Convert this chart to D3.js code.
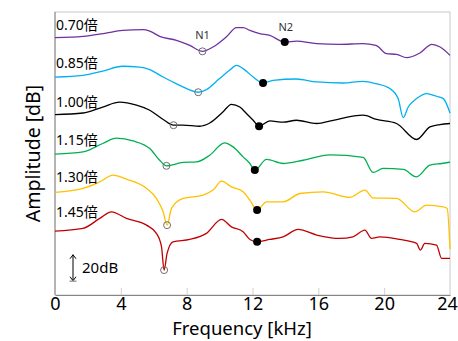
<!DOCTYPE html>
<html>
<head>
<meta charset="utf-8">
<script src="https://cdn.jsdelivr.net/npm/d3@7"></script>
<style>
  body { margin: 0; background: #fff; }
  text { font-family: "Noto Sans", "Noto Sans CJK JP", sans-serif; }
</style>
</head>
<body>
<div id="chart"></div>
<script>
// frequency [kHz] / amplitude [dB]
const freq070 = [0, 1.7, 3.1, 4.1, 5.35, 5.76, 6.36, 7.38, 8.19, 8.96, 9.6, 10.4, 11.03, 11.43, 11.84, 12.44, 13.05, 13.96, 14.67, 15.9, 17.3, 18.7, 19.5, 20.15, 20.75, 21.36, 22.17, 22.9, 23.4, 24];
const amp070 = [198.2, 199.2, 201.8, 203.8, 204.4, 203.3, 199.2, 196.2, 192.3, 187.7, 191, 198.7, 205.9, 205.9, 203.8, 201.3, 200, 194.8, 195.6, 193.6, 193.1, 193.6, 192.3, 185.9, 185.4, 182.8, 186.4, 193.1, 191, 184.6];

const freq085 = [0, 1.7, 2.9, 4.1, 5.15, 5.76, 6.57, 7.58, 8.7, 9.2, 10.0, 10.6, 11.03, 11.43, 12.04, 12.64, 13.25, 14.67, 15.9, 17.5, 18.7, 19.5, 20.35, 20.85, 21.16, 21.46, 21.97, 22.58, 23.18, 23.6, 24];
const amp085 = [167.9, 169.2, 172.5, 176.2, 175.6, 173.6, 167.9, 161.5, 156.2, 158.2, 166.7, 173.1, 176.9, 174.4, 167.9, 163.3, 165.4, 166.4, 164.1, 163.3, 164.6, 162.8, 159, 151.3, 136.7, 144.8, 151.3, 155.2, 153.1, 151.3, 140.2];

const freq100 = [0, 1.7, 2.9, 3.93, 4.95, 5.76, 6.57, 7.2, 7.78, 8.8, 9.4, 10.2, 10.72, 11.23, 11.63, 12.04, 12.4, 13.05, 13.86, 14.67, 15.9, 16.9, 18.72, 19.54, 20.75, 21.97, 22.78, 23.39, 24];
const amp100 = [139, 140.2, 144.8, 148.5, 146.2, 142.3, 135.2, 130.8, 130.8, 130, 132.5, 141, 146.9, 144.8, 139.8, 134.6, 130, 134.1, 133.1, 134.6, 132.1, 134.6, 138.5, 135.2, 132.1, 119.8, 129.5, 131.3, 132.1];

const freq115 = [0, 1.7, 2.9, 3.73, 4.74, 5.76, 6.36, 6.77, 7.78, 8.6, 9.4, 10.3, 10.82, 11.43, 11.84, 12.14, 12.85, 13.86, 15.08, 16.7, 18.72, 19.33, 19.94, 21.16, 21.97, 22.78, 23.49, 24];
const amp115 = [108.5, 110.2, 116.7, 120.8, 118.7, 112.8, 103.8, 99.5, 102.1, 102.5, 107.7, 117.2, 114.1, 106.4, 101.3, 96.2, 104.4, 101.3, 103.8, 107.9, 106, 94.4, 97.5, 96.7, 91, 100, 101.3, 102.3];

const freq130 = [0, 1.7, 2.72, 3.53, 4.34, 5.56, 6.16, 6.57, 6.81, 7.08, 7.78, 9.0, 9.6, 10.12, 10.72, 11.43, 11.84, 12.28, 12.85, 13.86, 14.88, 16.3, 17.9, 18.83, 19.33, 20.75, 21.87, 22.58, 23.59, 23.83, 24];
const amp130 = [79, 82.1, 87.2, 92.3, 89.2, 82.1, 74.4, 64.1, 53.8, 66.7, 74.4, 76.9, 80.8, 87.7, 83.3, 79.5, 73.1, 65.4, 71.8, 71.8, 78.2, 79.5, 75.2, 80.8, 74.8, 74.4, 64.1, 69.2, 67.9, 66.7, 35.4];

const freq145 = [0, 1.7, 2.72, 3.43, 4.34, 5.56, 6.16, 6.47, 6.63, 6.81, 7.17, 8.19, 9.2, 10.12, 10.72, 11.43, 11.84, 12.28, 13.05, 13.86, 14.77, 15.9, 17.3, 18.1, 18.83, 19.23, 19.74, 20.95, 21.97, 22.2, 22.47, 23.18, 23.49, 24];
const amp145 = [49.2, 51.3, 59, 64.1, 59, 53.8, 47.5, 37.2, 19.2, 32.1, 41, 42.8, 47.5, 58.2, 52.5, 48.7, 42.8, 41, 42.8, 44.8, 50.5, 46.2, 43.6, 44.8, 50, 43.6, 44.8, 42.8, 39.8, 34.6, 39.8, 38.5, 28.2, 28.2];

const curveNames = ['0.70倍', '0.85倍', '1.00倍', '1.15倍', '1.30倍', '1.45倍'];
const curveColors = ['#7030a0', '#00b0f0', '#000000', '#00b050', '#ffc000', '#c00000'];

// N1 (open) and N2 (filled) notch positions, one per curve
const n1Freq = [8.96, 8.7, 7.2, 6.77, 6.81, 6.63];
const n1Amp = [187.7, 156.2, 130.8, 99.5, 53.8, 19.2];
const n2Freq = [13.96, 12.64, 12.4, 12.14, 12.28, 12.28];
const n2Amp = [194.8, 163.3, 130, 96.2, 65.4, 41];

const xTicks = [0, 4, 8, 12, 16, 20, 24];
const scaleBar = [11, 31];

const width = 458;
const height = 341;
const margin = { top: 12, right: 8, bottom: 46, left: 55 };
const innerW = width - margin.left - margin.right;
const innerH = height - margin.top - margin.bottom;

const svg = d3.select('#chart')
  .append('svg')
  .attr('width', width)
  .attr('height', height);

const g = svg.append('g')
  .attr('transform', `translate(${margin.left}, ${margin.top})`);

const x = d3.scaleLinear().domain([0, 24]).range([0, innerW]);
const y = d3.scaleLinear().domain([0, 218]).range([innerH, 0]);

// frame: light top / right, darker left / bottom
g.append('rect')
  .attr('width', innerW)
  .attr('height', innerH)
  .attr('fill', 'none')
  .attr('stroke', '#c8c8c8')
  .attr('stroke-width', 1);

g.append('line')
  .attr('x1', 0).attr('x2', 0)
  .attr('y1', 0).attr('y2', innerH)
  .attr('stroke', '#868686');

const xAxis = g.append('g')
  .attr('transform', `translate(0, ${innerH})`)
  .call(d3.axisBottom(x)
    .tickValues(xTicks)
    .tickSizeInner(-7)
    .tickSizeOuter(0)
    .tickPadding(2));

xAxis.select('.domain').attr('stroke', '#868686');
xAxis.selectAll('.tick line')
  .attr('stroke', '#d0d0d0')
  .attr('display', (d) => (d === 0 || d === 24 ? 'none' : null));
xAxis.selectAll('.tick text')
  .attr('font-size', 18)
  .attr('fill', '#000')
  .attr('dx', (d) => (d === 24 ? -3 : 0))
  .style('font-family', '"Noto Sans", sans-serif');

const series = [
  [freq070, amp070], [freq085, amp085], [freq100, amp100],
  [freq115, amp115], [freq130, amp130], [freq145, amp145],
];

const line = d3.line()
  .x((d) => x(d[0]))
  .y((d) => y(d[1]))
  .curve(d3.curveMonotoneX);

series.forEach((s, i) => {
  const pts = s[0].map((f, k) => [f, s[1][k]]);
  g.append('path')
    .datum(pts)
    .attr('fill', 'none')
    .attr('stroke', curveColors[i])
    .attr('stroke-width', 1.3)
    .attr('d', line);
});

// curve labels sit just above the left end of each curve
const labelY = [30, 68, 107, 145, 182, 217];
curveNames.forEach((name, i) => {
  svg.append('text')
    .attr('x', 56)
    .attr('y', labelY[i])
    .attr('font-size', 14)
    .attr('fill', '#000')
    .text(name);
});

// notch markers
g.selectAll('.n1')
  .data(n1Freq)
  .enter()
  .append('circle')
  .attr('cx', (d) => x(d))
  .attr('cy', (d, i) => y(n1Amp[i]))
  .attr('r', 3.5)
  .attr('fill', 'none')
  .attr('stroke', '#6e6e6e')
  .attr('stroke-width', 1);

g.selectAll('.n2')
  .data(n2Freq)
  .enter()
  .append('circle')
  .attr('cx', (d) => x(d))
  .attr('cy', (d, i) => y(n2Amp[i]))
  .attr('r', 4)
  .attr('fill', '#000');

g.append('text')
  .attr('x', x(n1Freq[0]))
  .attr('y', y(n1Amp[0]) - 12)
  .attr('text-anchor', 'middle')
  .attr('font-size', 11)
  .attr('fill', '#333')
  .text('N1');

g.append('text')
  .attr('x', x(n2Freq[0]) + 1)
  .attr('y', y(n2Amp[0]) - 11)
  .attr('text-anchor', 'middle')
  .attr('font-size', 11)
  .attr('fill', '#333')
  .text('N2');

// 20 dB scale bar
const barX = 18;
const yb0 = y(scaleBar[0]);
const yb1 = y(scaleBar[1]);
g.append('line')
  .attr('x1', barX).attr('x2', barX)
  .attr('y1', yb1).attr('y2', yb0)
  .attr('stroke', '#000')
  .attr('stroke-width', 1);
g.append('path')
  .attr('d', `M${barX - 3},${yb1 + 4}L${barX},${yb1}L${barX + 3},${yb1 + 4}M${barX - 3},${yb0 - 4}L${barX},${yb0}L${barX + 3},${yb0 - 4}`)
  .attr('fill', 'none')
  .attr('stroke', '#000')
  .attr('stroke-width', 1);
g.append('line')
  .attr('x1', barX - 3.5).attr('x2', barX + 3.5)
  .attr('y1', yb0 + 0.5).attr('y2', yb0 + 0.5)
  .attr('stroke', '#a0a0a0')
  .attr('stroke-width', 1.5);
g.append('text')
  .attr('x', barX + 9)
  .attr('y', (yb0 + yb1) / 2 + 5.5)
  .attr('font-size', 15)
  .attr('fill', '#000')
  .text('20dB');

// axis titles
svg.append('text')
  .attr('transform', `translate(40, ${margin.top + innerH / 2}) rotate(-90)`)
  .attr('text-anchor', 'middle')
  .attr('font-size', 19.5)
  .attr('fill', '#000')
  .text('Amplitude [dB]');

svg.append('text')
  .attr('x', 242)
  .attr('y', 335)
  .attr('text-anchor', 'middle')
  .attr('font-size', 18.5)
  .attr('fill', '#000')
  .text('Frequency [kHz]');
</script>
</body>
</html>
